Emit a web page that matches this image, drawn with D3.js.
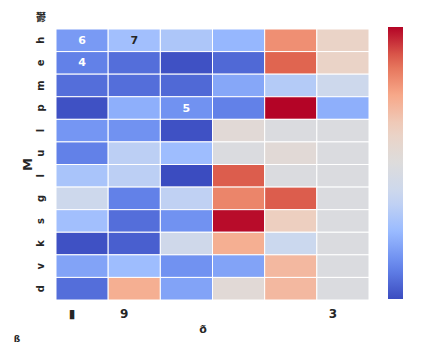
<!DOCTYPE html>
<html>
<head>
<meta charset="utf-8">
<script src="https://cdn.jsdelivr.net/npm/d3@7"></script>
<style>
  body { margin: 0; background: #fff; }
  text { font-family: "DejaVu Sans", sans-serif; fill: #262626; }
</style>
</head>
<body>
<div id="chart"></div>
<script>
// row / column labels (as they came out of the source figure)
const rowLabels = ["h", "e", "m", "p", "l", "u", "l", "g", "s", "k", "v", "d"];
const colLabels = ["▮", "9", "", "", "", "3"];
const colLabelShift = -10;

// cell values, one array per row
const values = [
  [17, 27, 30, 24, 80, 60],
  [11,  7,  1,  6, 88, 60],
  [ 7,  7,  6, 20, 32, 40],
  [ 1, 22, 15, 11, 100, 22],
  [16, 15,  1, 53, 48, 48],
  [11, 34, 26, 48, 53, 48],
  [29, 34,  0, 89, 48, 48],
  [40, 11, 35, 82, 89, 48],
  [27,  7, 15, 99, 63, 48],
  [ 1,  4, 41, 73, 39, 48],
  [19, 26, 15, 19, 70, 48],
  [ 7, 73, 19, 53, 70, 48]
];

// annotations that were printed in a few cells
const annots = [
  {row: 0, col: 0, text: "6"},
  {row: 0, col: 1, text: "7"},
  {row: 1, col: 0, text: "4"},
  {row: 3, col: 2, text: "5"}
];

const width = 438, height = 353;
const margin = {left: 56, top: 29, right: 69, bottom: 53};

const svg = d3.select("#chart").append("svg")
  .attr("width", width)
  .attr("height", height);

// coolwarm colormap
const coolwarm = d3.piecewise(d3.interpolateRgb, [
  "#3b4cc0", "#6788ee", "#9abbff", "#c9d7f0", "#dddcdc",
  "#edd1c2", "#f7a889", "#e26952", "#b40426"
]);
const color = d3.scaleSequential(coolwarm).domain([0, 100]);

const x = d3.scaleBand()
  .domain(d3.range(colLabels.length))
  .range([margin.left, width - margin.right]);
const y = d3.scaleBand()
  .domain(d3.range(rowLabels.length))
  .range([margin.top, height - margin.bottom]);

const cells = values.flatMap((row, i) => row.map((v, j) => ({row: i, col: j, v})));

svg.append("g").selectAll("rect")
  .data(cells)
  .join("rect")
    .attr("x", d => x(d.col))
    .attr("y", d => y(d.row))
    .attr("width", x.bandwidth())
    .attr("height", y.bandwidth())
    .attr("fill", d => color(d.v))
    .attr("stroke", "#fff")
    .attr("stroke-width", 1);

// text colour like seaborn: dark on light cells, white on dark ones
function lum(c) {
  const rgb = d3.rgb(c);
  const f = u => { u /= 255; return u <= 0.03928 ? u / 12.92 : Math.pow((u + 0.055) / 1.055, 2.4); };
  return 0.2126 * f(rgb.r) + 0.7152 * f(rgb.g) + 0.0722 * f(rgb.b);
}

svg.append("g").selectAll("text")
  .data(annots)
  .join("text")
    .attr("x", d => x(d.col) + x.bandwidth() / 2)
    .attr("y", d => y(d.row) + y.bandwidth() / 2)
    .attr("text-anchor", "middle")
    .attr("dominant-baseline", "central")
    .attr("font-size", 11)
    .attr("font-weight", "bold")
    .style("fill", d => lum(color(values[d.row][d.col])) > 0.408 ? "#262626" : "#fff")
    .text(d => d.text);

// y tick labels, rotated
svg.append("g").selectAll("text")
  .data(rowLabels)
  .join("text")
    .attr("transform", (d, i) => `translate(44,${y(i) + y.bandwidth() / 2}) rotate(-90)`)
    .attr("text-anchor", "middle")
    .attr("font-size", 10)
    .attr("font-weight", "bold")
    .text(d => d);

// x tick labels
svg.append("g").selectAll("text")
  .data(colLabels)
  .join("text")
    .attr("x", (d, i) => x(i) + x.bandwidth() / 2 + colLabelShift)
    .attr("y", 318)
    .attr("text-anchor", "middle")
    .attr("font-size", 12)
    .attr("font-weight", "bold")
    .text(d => d);

// axis labels and stray glyphs
svg.append("text")
  .attr("transform", `translate(32,${(margin.top + height - margin.bottom) / 2}) rotate(-90)`)
  .attr("text-anchor", "middle")
  .attr("font-size", 13)
  .attr("font-weight", "bold")
  .text("M");

svg.append("text")
  .attr("x", 203).attr("y", 333)
  .attr("text-anchor", "middle")
  .attr("font-size", 11)
  .attr("font-weight", "bold")
  .text("ð");

svg.append("text")
  .attr("x", 41).attr("y", 21)
  .attr("text-anchor", "middle")
  .attr("font-size", 10)
  .style("font-family", "'Noto Sans CJK SC'")
  .attr("font-weight", "bold")
  .text("鬱");

svg.append("text")
  .attr("x", 17).attr("y", 342)
  .attr("text-anchor", "middle")
  .attr("font-size", 9)
  .attr("font-weight", "bold")
  .text("ß");

// colorbar
const cbX = 388, cbW = 15, cbTop = 27, cbBottom = 299;
const defs = svg.append("defs");
const grad = defs.append("linearGradient")
  .attr("id", "cbar")
  .attr("x1", 0).attr("y1", 1).attr("x2", 0).attr("y2", 0);
grad.selectAll("stop")
  .data(d3.range(0, 1.0001, 0.05))
  .join("stop")
    .attr("offset", d => d)
    .attr("stop-color", d => color(d * 100));

svg.append("rect")
  .attr("x", cbX).attr("y", cbTop)
  .attr("width", cbW).attr("height", cbBottom - cbTop)
  .attr("fill", "url(#cbar)");
</script>
</body>
</html>
